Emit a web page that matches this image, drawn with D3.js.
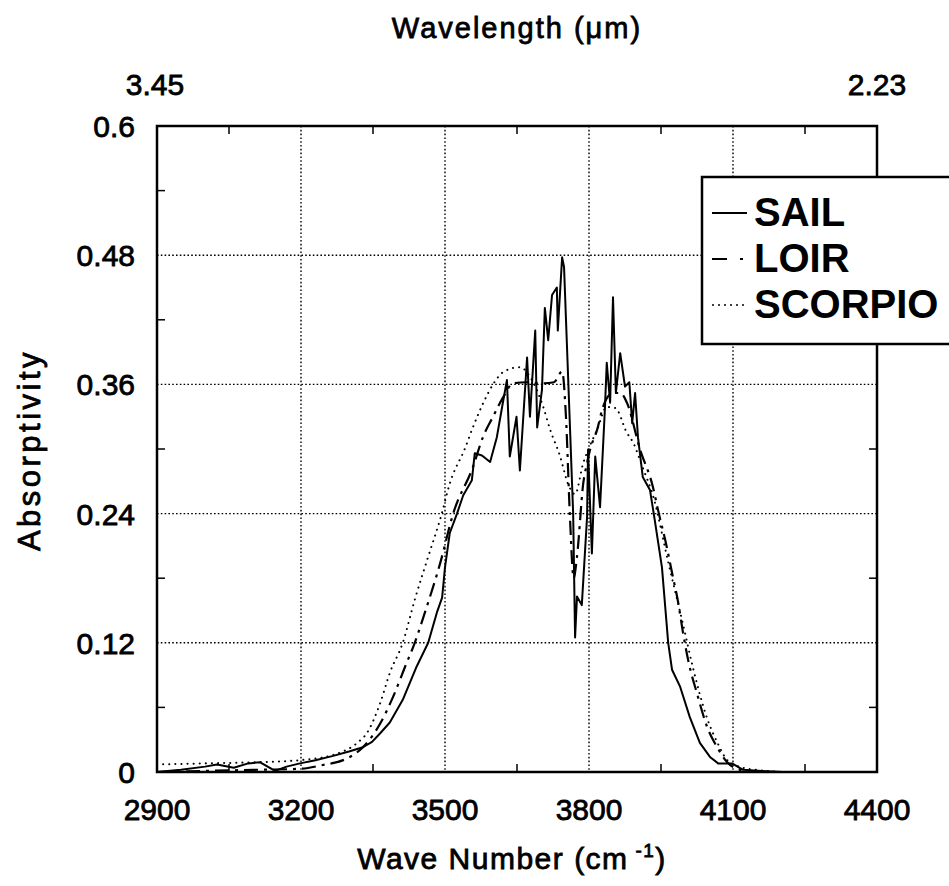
<!DOCTYPE html>
<html><head><meta charset="utf-8">
<script src="https://cdn.jsdelivr.net/npm/d3@7/dist/d3.min.js"></script>
<style>
html,body{margin:0;padding:0;background:#fff;}
text{font-family:"Liberation Sans",Arial,sans-serif;fill:#000;}
.heavy{stroke:#000;stroke-width:0.8px;}
</style></head>
<body>
<svg id="chart" width="949" height="886"></svg>
<script>
// ---- data ----
const sailWN  = [2900,2950,3000,3025,3060,3090,3115,3146,3170,3198,3230,3267,3300,3329,3348,3365,3385,3412,3441,3465,3483,3494,3500,3510,3525,3538,3556,3562,3577,3594,3608,3619,3629,3635,3649,3656,3671,3677,3688,3692,3702,3708,3715,3723,3733,3735,3744,3748,3767,3771,3775,3785,3796,3798,3806,3813,3823,3833,3837,3844,3850,3856,3865,3875,3884,3890,3896,3902,3912,3927,3937,3952,3965,3973,3990,4010,4031,4052,4069,4098,4121,4160,4204,4250];
const sailAbs = [0.0,0.002,0.005,0.007,0.004,0.008,0.009,0.001,0.005,0.008,0.011,0.015,0.019,0.023,0.028,0.036,0.046,0.067,0.098,0.12,0.148,0.162,0.19,0.222,0.24,0.257,0.271,0.296,0.294,0.288,0.311,0.339,0.364,0.293,0.33,0.28,0.385,0.33,0.41,0.32,0.355,0.431,0.401,0.443,0.45,0.41,0.478,0.469,0.24,0.125,0.163,0.155,0.237,0.299,0.203,0.293,0.246,0.336,0.38,0.343,0.441,0.352,0.389,0.358,0.362,0.324,0.352,0.311,0.274,0.262,0.234,0.19,0.12,0.095,0.079,0.051,0.027,0.014,0.008,0.008,0.002,0.001,0.0,0.0];

const loirWN  = [2900,3000,3100,3200,3240,3302,3329,3365,3392,3417,3437,3458,3490,3517,3558,3579,3600,3621,3642,3670,3698,3727,3744,3752,3760,3768,3775,3788,3796,3802,3817,3829,3850,3865,3879,3906,3933,3944,3962,3973,3986,3996,4008,4025,4046,4067,4088,4115,4150];
const loirAbs = [0.0,0.001,0.002,0.003,0.006,0.014,0.023,0.045,0.07,0.098,0.12,0.148,0.194,0.24,0.283,0.311,0.33,0.348,0.361,0.362,0.361,0.362,0.372,0.33,0.24,0.18,0.2,0.268,0.287,0.299,0.318,0.339,0.352,0.352,0.343,0.3,0.265,0.243,0.209,0.185,0.157,0.129,0.101,0.073,0.042,0.023,0.009,0.002,0.0];

const scorWN  = [2900,3000,3100,3198,3275,3317,3337,3365,3385,3412,3437,3465,3492,3510,3542,3558,3581,3600,3623,3656,3680,3704,3719,3740,3756,3771,3788,3798,3817,3837,3855,3879,3892,3910,3935,3965,3996,4016,4046,4070,4088,4120,4148,4200];
const scorAbs = [0.007,0.008,0.009,0.011,0.017,0.027,0.036,0.064,0.092,0.12,0.16,0.2,0.238,0.268,0.301,0.32,0.344,0.36,0.372,0.376,0.365,0.34,0.318,0.293,0.268,0.258,0.287,0.299,0.318,0.339,0.338,0.315,0.306,0.285,0.254,0.195,0.137,0.098,0.05,0.025,0.011,0.004,0.002,0.0];

const xTicks = [2900,3200,3500,3800,4100,4400];
const xMinor = [3050,3350,3650,3950,4250];
const yTicks = [0,0.12,0.24,0.36,0.48,0.6];
const yTickLabels = ["0","0.12","0.24","0.36","0.48","0.6"];
const yMinor = [0.06,0.18,0.30,0.42,0.54];
const topLabels = ["3.45","2.23"];
const seriesNames = ["SAIL","LOIR","SCORPIO"];

// ---- layout ----
const L = 157, R = 877, T = 126, B = 772;
const svg = d3.select("#chart");
const x = d3.scaleLinear().domain([2900,4400]).range([L,R]);
const y = d3.scaleLinear().domain([0,0.6]).range([B,T]);

// gridlines
const grid = svg.append("g").attr("stroke","#000").attr("stroke-width",1.4).attr("stroke-dasharray","1.6,2.2");
grid.selectAll(".vg").data(xTicks.slice(1,-1)).join("line")
  .attr("x1",d=>x(d)).attr("x2",d=>x(d)).attr("y1",T).attr("y2",B);
grid.selectAll(".hg").data(yTicks.slice(1,-1)).join("line")
  .attr("x1",L).attr("x2",R).attr("y1",d=>y(d)).attr("y2",d=>y(d));

// minor ticks (inside)
const tk = svg.append("g").attr("stroke","#000").attr("stroke-width",1.5);
tk.selectAll(".xm").data(xMinor).join("line")
  .attr("x1",d=>x(d)).attr("x2",d=>x(d)).attr("y1",B).attr("y2",B-8);
tk.selectAll(".xmt").data(xMinor).join("line")
  .attr("x1",d=>x(d)).attr("x2",d=>x(d)).attr("y1",T).attr("y2",T+8);
tk.selectAll(".ym").data(yMinor).join("line")
  .attr("x1",L).attr("x2",L+8).attr("y1",d=>y(d)).attr("y2",d=>y(d));
tk.selectAll(".ymr").data(yMinor).join("line")
  .attr("x1",R).attr("x2",R-8).attr("y1",d=>y(d)).attr("y2",d=>y(d));

// series
const line = d3.line().x(d=>x(d[0])).y(d=>y(d[1]));
const smooth = d3.line().x(d=>x(d[0])).y(d=>y(d[1])).curve(d3.curveMonotoneX);
const zip = (a,b)=>a.map((v,i)=>[v,b[i]]);

svg.append("path").datum(zip(scorWN,scorAbs)).attr("d",smooth)
  .attr("fill","none").attr("stroke","#000").attr("stroke-width",2).attr("stroke-linecap","round")
  .attr("stroke-dasharray","0.1,6");
svg.append("path").datum(zip(loirWN,loirAbs)).attr("d",smooth)
  .attr("fill","none").attr("stroke","#000").attr("stroke-width",2.2)
  .attr("stroke-dasharray","14,6,3,6");
svg.append("path").datum(zip(sailWN,sailAbs)).attr("d",line)
  .attr("fill","none").attr("stroke","#000").attr("stroke-width",2).attr("stroke-linejoin","round");

// frame
svg.append("rect").attr("x",L).attr("y",T).attr("width",R-L).attr("height",B-T)
  .attr("fill","none").attr("stroke","#000").attr("stroke-width",2.5);

// tick labels
svg.append("g").selectAll("text").data(xTicks).join("text").attr("class","heavy")
  .attr("x",d=>x(d)).attr("y",820).attr("text-anchor","middle")
  .attr("font-size",30).text(d=>d);
svg.append("g").selectAll("text").data(yTicks).join("text").attr("class","heavy")
  .attr("x",135).attr("y",d=>y(d)+11).attr("text-anchor","end")
  .attr("font-size",30).text((d,i)=>yTickLabels[i]);

// top axis labels
svg.append("text").attr("class","heavy").attr("x",x(2900)-2).attr("y",95).attr("text-anchor","middle").attr("font-size",30).text(topLabels[0]);
svg.append("text").attr("class","heavy").attr("x",x(4400)).attr("y",95).attr("text-anchor","middle").attr("font-size",30).text(topLabels[1]);

// titles
svg.append("text").attr("class","heavy").attr("x",517).attr("y",38).attr("text-anchor","middle").attr("font-size",29)
  .attr("letter-spacing",2).text("Wavelength (\u03BCm)");
const xt = svg.append("text").attr("class","heavy").attr("x",512).attr("y",869).attr("text-anchor","middle").attr("font-size",30).attr("letter-spacing",1.5);
xt.append("tspan").text("Wave Number (cm");
xt.append("tspan").attr("font-size",19).attr("dy",-12).text(" -1");
xt.append("tspan").attr("dy",12).text(")");
svg.append("text").attr("class","heavy").attr("transform","translate(40,450) rotate(-90)").attr("text-anchor","middle")
  .attr("font-size",31).attr("letter-spacing",3.5).text("Absorptivity");

// legend
const lg = svg.append("g");
lg.append("rect").attr("x",702).attr("y",177).attr("width",300).attr("height",167)
  .attr("fill","#fff").attr("stroke","#000").attr("stroke-width",2.5);
const legY = [213,259,305];
const legDash = [null,"15,13,3,40","2,4"];
lg.selectAll(".ll").data(seriesNames).join("line")
  .attr("x1",712).attr("x2",747).attr("y1",(d,i)=>legY[i]).attr("y2",(d,i)=>legY[i])
  .attr("stroke","#000").attr("stroke-width",(d,i)=>i==2?1.5:2)
  .attr("stroke-dasharray",(d,i)=>legDash[i]);
lg.selectAll(".lt").data(seriesNames).join("text")
  .attr("x",754).attr("y",(d,i)=>legY[i]+13).attr("font-size",40).attr("font-weight","bold")
  .text(d=>d);
</script>
</body></html>
